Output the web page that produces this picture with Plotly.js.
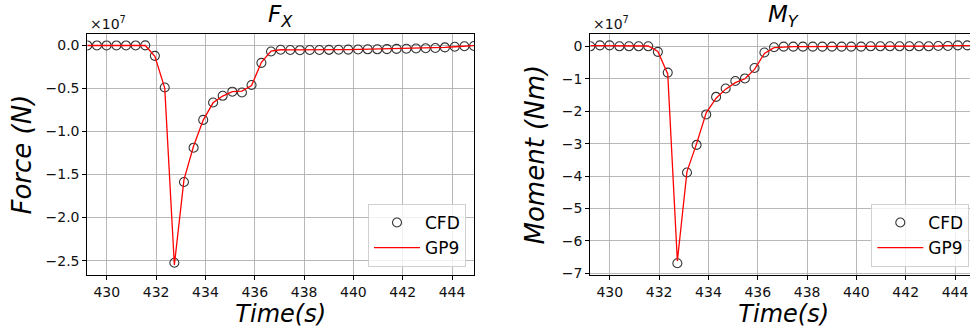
<!DOCTYPE html>
<html>
<head>
<meta charset="utf-8">
<script src="https://cdn.plot.ly/plotly-3.0.1.min.js"></script>
<style>
html, body { margin: 0; padding: 0; overflow: hidden; background: #fff; width: 970px; height: 333px; }
#chart { width: 980px; height: 333px; }
</style>
</head>
<body>
<div id="chart"></div>
<script>
// Time (s)
const time = [429.21, 429.60, 429.99, 430.39, 430.78, 431.17, 431.56, 431.95, 432.35, 432.74,
              433.13, 433.52, 433.91, 434.31, 434.70, 435.09, 435.48, 435.87, 436.27, 436.66,
              437.05, 437.44, 437.83, 438.23, 438.62, 439.01, 439.40, 439.79, 440.19, 440.58,
              440.97, 441.36, 441.75, 442.15, 442.54, 442.93, 443.32, 443.71, 444.11, 444.50, 444.89];

// Force F_X (x 1e7 N)
const fxCFD = [-0.005, -0.005, -0.005, -0.005, -0.005, -0.005, -0.004, -0.126, -0.492, -2.523,
               -1.588, -1.190, -0.868, -0.667, -0.589, -0.541, -0.551, -0.464, -0.207, -0.075,
               -0.055, -0.058, -0.060, -0.058, -0.058, -0.056, -0.055, -0.054, -0.052, -0.050,
               -0.050, -0.048, -0.045, -0.043, -0.040, -0.038, -0.035, -0.028, -0.020, -0.015, -0.012];
const fxGP9 = [-0.006, -0.006, -0.006, -0.006, -0.006, -0.006, -0.006, -0.130, -0.500, -2.550,
               -1.560, -1.170, -0.870, -0.670, -0.592, -0.540, -0.535, -0.470, -0.200, -0.070,
               -0.055, -0.057, -0.058, -0.057, -0.056, -0.055, -0.054, -0.053, -0.051, -0.050,
               -0.049, -0.047, -0.045, -0.042, -0.040, -0.037, -0.033, -0.027, -0.020, -0.014, -0.008];

// Moment M_Y (x 1e7 Nm)
const myCFD = [0.00, 0.03, 0.03, 0.00, 0.00, 0.00, 0.00, -0.17, -0.81, -6.69,
               -3.89, -3.04, -2.10, -1.56, -1.30, -1.07, -0.99, -0.67, -0.19, -0.03,
               -0.01, -0.01, -0.01, -0.01, -0.01, -0.01, -0.01, -0.01, -0.01, 0.00,
               0.00, 0.00, 0.00, 0.00, 0.00, 0.00, 0.01, 0.01, 0.03, 0.03, 0.03];
const myGP9 = [0.02, 0.02, 0.02, 0.02, 0.02, 0.02, 0.01, -0.16, -0.85, -6.62,
               -3.86, -3.00, -2.05, -1.60, -1.32, -1.12, -1.00, -0.71, -0.22, -0.04,
               -0.02, -0.01, -0.01, -0.01, -0.01, -0.01, -0.01, 0.00, 0.00, 0.00,
               0.00, 0.00, 0.00, 0.00, 0.01, 0.01, 0.01, 0.02, 0.02, 0.02, 0.02];

const xTicks = [430, 432, 434, 436, 438, 440, 442, 444];
const legendNames = ['CFD', 'GP9'];

const W = 980, H = 333;
const FONT = 'DejaVu Sans';
const px = v => v / W;
const py = v => 1 - v / H;

const markerStyle = { symbol: 'circle-open', size: 9, color: '#333333', line: { width: 1.1 } };
const lineStyle = { color: '#ff0000', width: 1.3 };

const traces = [
  { x: time, y: fxCFD, type: 'scatter', mode: 'markers', name: legendNames[0], marker: markerStyle, xaxis: 'x', yaxis: 'y', legend: 'legend' },
  { x: time, y: fxGP9, type: 'scatter', mode: 'lines', name: legendNames[1], line: lineStyle, xaxis: 'x', yaxis: 'y', legend: 'legend' },
  { x: time, y: myCFD, type: 'scatter', mode: 'markers', name: legendNames[0], marker: markerStyle, xaxis: 'x2', yaxis: 'y2', legend: 'legend2' },
  { x: time, y: myGP9, type: 'scatter', mode: 'lines', name: legendNames[1], line: lineStyle, xaxis: 'x2', yaxis: 'y2', legend: 'legend2' }
];

const axBase = {
  showgrid: true, gridcolor: '#b0b0b0', gridwidth: 0.9,
  showline: true, linecolor: '#000', linewidth: 1, mirror: true,
  ticks: 'outside', ticklen: 4, tickcolor: '#000', tickwidth: 1,
  tickfont: { family: FONT, size: 14, color: '#111' },
  zeroline: false, automargin: false
};

const yDom = [1 - 275.3 / H, 1 - 34 / H];
const xTitleFont = { family: FONT, size: 24, color: '#000' };
const yTitleFont = { family: FONT, size: 26, color: '#000' };

const legBase = {
  font: { family: FONT, size: 17, color: '#000' },
  bgcolor: 'rgba(255,255,255,0.8)', bordercolor: '#d0d0d0', borderwidth: 1,
  xanchor: 'right', yanchor: 'bottom', itemwidth: 46, tracegroupgap: 0
};

const layout = {
  width: W, height: H,
  margin: { l: 0, r: 0, t: 0, b: 0 },
  paper_bgcolor: '#fff', plot_bgcolor: '#fff',
  showlegend: true,
  xaxis: Object.assign({}, axBase, {
    domain: [px(87.3), px(474)], range: [429.21, 444.89], tickvals: xTicks, anchor: 'y',
    title: { text: '<i>Time(s)</i>', font: xTitleFont, standoff: 6 }
  }),
  yaxis: Object.assign({}, axBase, {
    domain: yDom, range: [-2.669, 0.1275], dtick: 0.5, tick0: 0, tickformat: '.1f', anchor: 'x',
    title: { text: '<i>Force (N)</i>', font: yTitleFont, standoff: 6 }
  }),
  xaxis2: Object.assign({}, axBase, {
    domain: [px(590.3), px(977)], range: [429.21, 444.89], tickvals: xTicks, anchor: 'y2',
    title: { text: '<i>Time(s)</i>', font: xTitleFont, standoff: 6 }
  }),
  yaxis2: Object.assign({}, axBase, {
    domain: yDom, range: [-7.06, 0.38], dtick: 1, tick0: 0, anchor: 'x2',
    title: { text: '<i>Moment (Nm)</i>', font: yTitleFont, standoff: 9 }
  }),
  legend: Object.assign({}, legBase, { x: px(466), y: py(267) }),
  legend2: Object.assign({}, legBase, { x: px(969.3), y: py(267) }),
  annotations: [
    { text: '<i>F</i><sub><i>X</i></sub>', xref: 'paper', yref: 'paper', x: px(280.7), y: py(33), xanchor: 'center', yanchor: 'bottom', showarrow: false, font: { family: FONT, size: 23, color: '#000' } },
    { text: '<i>M</i><sub><i>Y</i></sub>', xref: 'paper', yref: 'paper', x: px(783.7), y: py(33), xanchor: 'center', yanchor: 'bottom', showarrow: false, font: { family: FONT, size: 23, color: '#000' } },
    { text: '×10<sup>7</sup>', xref: 'paper', yref: 'paper', x: px(88), y: py(34), xanchor: 'left', yanchor: 'bottom', showarrow: false, font: { family: FONT, size: 14, color: '#111' } },
    { text: '×10<sup>7</sup>', xref: 'paper', yref: 'paper', x: px(591), y: py(34), xanchor: 'left', yanchor: 'bottom', showarrow: false, font: { family: FONT, size: 14, color: '#111' } }
  ]
};

Plotly.newPlot('chart', traces, layout, { displayModeBar: false, staticPlot: true });
</script>
</body>
</html>
